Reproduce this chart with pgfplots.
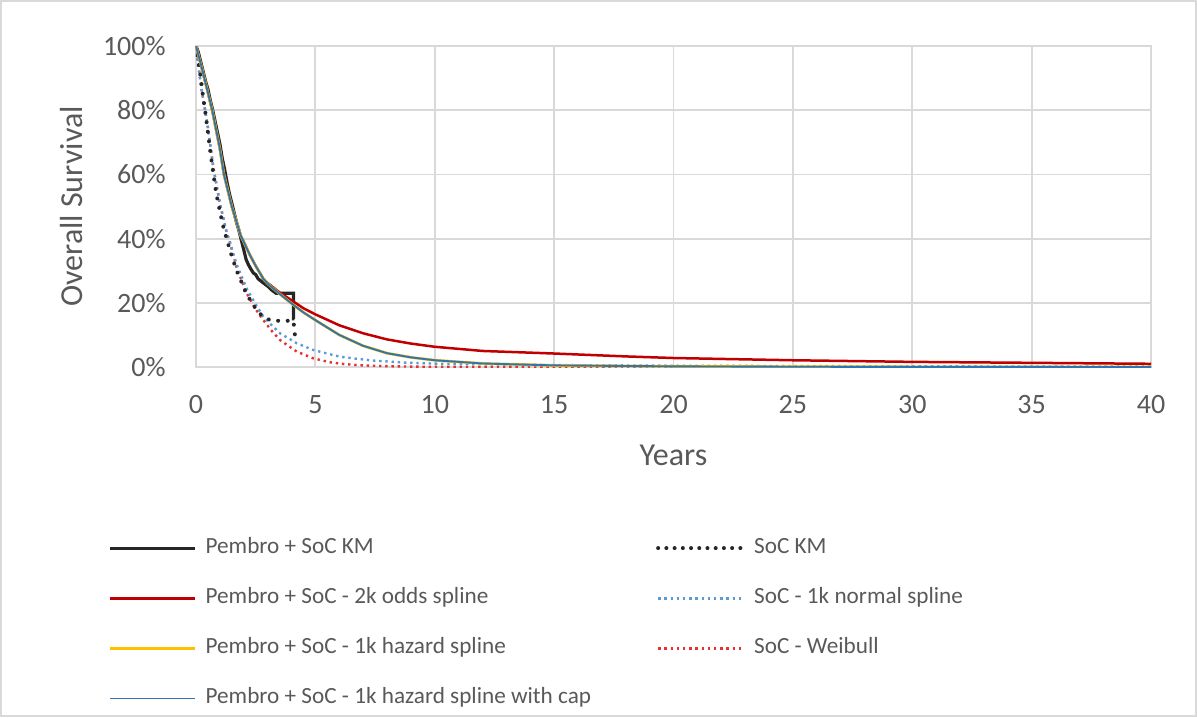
\documentclass[border=0pt]{standalone}
\usepackage{pgfplots}
\pgfplotsset{compat=1.18}
\usepackage{fontspec}
\setmainfont{Carlito}
\definecolor{txt}{RGB}{89,89,89}
\definecolor{gridc}{RGB}{217,217,217}
\definecolor{kmblack}{RGB}{38,38,38}
\definecolor{odred}{RGB}{192,0,0}
\definecolor{hzyel}{RGB}{255,192,0}
\definecolor{capblue}{RGB}{46,117,182}
\definecolor{nsblue}{RGB}{91,155,213}
\definecolor{wbred}{RGB}{232,48,48}
\begin{document}
\begin{tikzpicture}
\useasboundingbox (-98pt,-175pt) rectangle (500.5pt,183.5pt);
\draw[gridc, line width=0.8pt] (-97.6pt,-174.6pt) rectangle (500.1pt,183.1pt);
\begin{axis}[
  scale only axis,
  width=477.5pt, height=160.5pt,
  xmin=0, xmax=40, ymin=0, ymax=100,
  xtick={0,5,...,40},
  xticklabels={0,5,10,15,20,25,30,35,40},
  ytick={0,20,...,100},
  yticklabels={0\%,20\%,40\%,60\%,80\%,100\%},
  major tick length=0pt,
  grid=major,
  major grid style={gridc, line width=0.9pt},
  axis line style={gridc, line width=0.9pt},
  tick label style={font=\fontsize{14}{16}\selectfont, text=txt},
  xticklabel style={anchor=north, inner sep=0pt, yshift=-14pt},
  yticklabel style={anchor=east, inner sep=0pt, xshift=-15pt},
  xlabel={Years},
  ylabel={Overall Survival},
  label style={font=\fontsize{16}{18}\selectfont, text=txt, inner sep=0pt},
  xlabel style={at={(axis description cs:0.5,-0.243)}, anchor=north},
  ylabel style={at={(axis description cs:-0.1183,0.5)}, anchor=south},
  clip=true,
  legend columns=2,
  legend cell align=left,
  legend image code/.code={\draw[#1] (0pt,0pt) -- (42.5pt,0pt);},
  legend style={
    at={(axis description cs:-0.0921,-0.5358)}, anchor=north west,
    draw=none, fill=none, inner sep=0pt,
    font=\fontsize{11.6}{13}\selectfont, text=txt,
    nodes={inner sep=0pt, text height=7pt, text depth=2pt},
    row sep=16pt,
    /tikz/every odd column/.append style={column sep=4.5pt},
    /tikz/every even column/.append style={column sep=32.5pt},
  },
]
% legend entries (row-wise order)
\addlegendimage{kmblack, line width=1.6pt}
\addlegendentry{Pembro + SoC KM}
\addlegendimage{kmblack, line width=2pt, line cap=round, dash pattern=on 0.01pt off 4.1pt}
\addlegendentry{SoC KM}
\addlegendimage{odred, line width=1.25pt}
\addlegendentry{Pembro + SoC - 2k odds spline}
\addlegendimage{nsblue, line width=1.2pt, dash pattern=on 1.2pt off 1.9pt}
\addlegendentry{SoC - 1k normal spline}
\addlegendimage{hzyel, line width=1.25pt}
\addlegendentry{Pembro + SoC - 1k hazard spline}
\addlegendimage{wbred, line width=1.2pt, dash pattern=on 1.2pt off 1.9pt}
\addlegendentry{SoC - Weibull}
\addlegendimage{capblue, line width=0.75pt}
\addlegendentry{Pembro + SoC - 1k hazard spline with cap}

% Pembro + SoC KM
\addplot[kmblack, line width=1.6pt, forget plot] coordinates {
(0,100) (0.1,98) (0.2,95) (0.3,92) (0.4,89) (0.5,86.5) (0.6,83) (0.7,80)
(0.8,76.5) (0.9,73) (1.0,69.5) (1.1,65) (1.2,61.5) (1.3,57.5) (1.4,54)
(1.5,51) (1.6,48) (1.7,45) (1.8,42.5) (1.9,39.5) (2.0,36.5) (2.1,33.5)
(2.2,31.8) (2.3,30.5) (2.4,29.3) (2.5,28.8) (2.6,27.5) (2.8,26.3) (3.0,25.2) (3.2,23.8)
(3.35,23) (4.08,23) (4.08,15) (4.12,15)};
% SoC - Weibull
\addplot[wbred, line width=1.2pt, dash pattern=on 1.2pt off 1.9pt, forget plot] coordinates {
(0,100) (0.1,94) (0.2,88) (0.38,80) (0.5,74.5) (0.73,62) (1.0,51) (1.28,42)
(1.42,39) (1.7,31) (2.12,23) (2.5,18) (2.82,14.6) (3.2,11) (3.52,8.4)
(4.22,4.8) (4.91,2.7) (5.6,1.5) (6.2,0.9) (7,0.5) (8,0.25) (9,0.12)
(10,0.06) (12,0.01) (15,0) (40,0)};
% SoC - 1k normal spline
\addplot[nsblue, line width=1.2pt, dash pattern=on 1.2pt off 1.9pt, forget plot] coordinates {
(0,100) (0.1,94) (0.2,88) (0.38,80) (0.5,74.5) (0.73,62) (1.0,51) (1.28,42)
(1.7,32) (2.12,24.5) (2.5,19.5) (2.82,15.7) (3.2,12.8) (3.52,10.5)
(4.22,7.4) (4.91,5.3) (5.6,4.0) (6.03,3.2) (6.7,2.6) (7.43,2.0) (8.8,1.35)
(10.2,1.0) (12.3,0.8) (15,0.6) (20,0.4) (25,0.3) (30,0.2) (35,0.15) (40,0.1)};
% SoC KM
\addplot[kmblack, line width=2pt, line cap=round, dash pattern=on 0.01pt off 4.8pt, forget plot] coordinates {
(0,100) (0.1,95) (0.2,90) (0.3,84) (0.38,80) (0.5,73) (0.6,67) (0.73,60)
(0.85,54) (1.0,48.5) (1.15,43.5) (1.28,40) (1.4,37) (1.5,34.5) (1.7,30)
(1.9,26.5) (2.1,23) (2.26,21) (2.4,19.3) (2.54,17.8) (2.7,16.5) (2.82,15.7)
(3.0,15) (3.17,14.4) (4.08,14.4) (4.12,11.7) (4.15,9.4)};
% Pembro + SoC - 2k odds spline
\addplot[odred, line width=1.25pt, forget plot] coordinates {
(0,100) (0.25,93) (0.5,85.5) (0.68,80) (1,68) (1.17,60) (1.5,50) (1.87,41)
(2,39) (2.25,35) (2.5,31.5) (2.82,27.5) (3,26.2) (3.5,23.2) (4,20.8)
(4.5,18.3) (5,16.4) (6,13) (7,10.5) (8,8.6) (9,7.3) (10,6.3) (12,5.0)
(15,4.2) (18,3.3) (20,2.8) (25,2.1) (30,1.6) (35,1.3) (40,1.0)};
% Pembro + SoC - 1k hazard spline
\addplot[hzyel, line width=1.4pt, forget plot] coordinates {
(0,100) (0.25,93) (0.5,85.5) (0.68,80) (1,68) (1.17,60) (1.5,50) (1.87,41)
(2,39) (2.25,35) (2.5,31.5) (2.82,27.5) (3,26) (3.5,22.8) (4,19.8)
(4.5,17) (5,14.6) (6,10) (7,6.6) (8,4.3) (9,3.0) (10,2.1) (12,1.1)
(15,0.5) (20,0.2) (25,0.08) (30,0.03) (40,0.01)};
% Pembro + SoC - 1k hazard spline with cap
\addplot[capblue, line width=0.95pt, forget plot] coordinates {
(0,100) (0.25,93) (0.5,85.5) (0.68,80) (1,68) (1.17,60) (1.5,50) (1.87,41)
(2,39) (2.25,35) (2.5,31.5) (2.82,27.5) (3,26) (3.5,22.8) (4,19.8)
(4.5,17) (5,14.6) (6,10) (7,6.6) (8,4.3) (9,3.0) (10,2.1) (12,1.1)
(15,0.5) (20,0.2) (25,0.08) (30,0.03) (40,0.01)};
\end{axis}
\end{tikzpicture}
\end{document}
